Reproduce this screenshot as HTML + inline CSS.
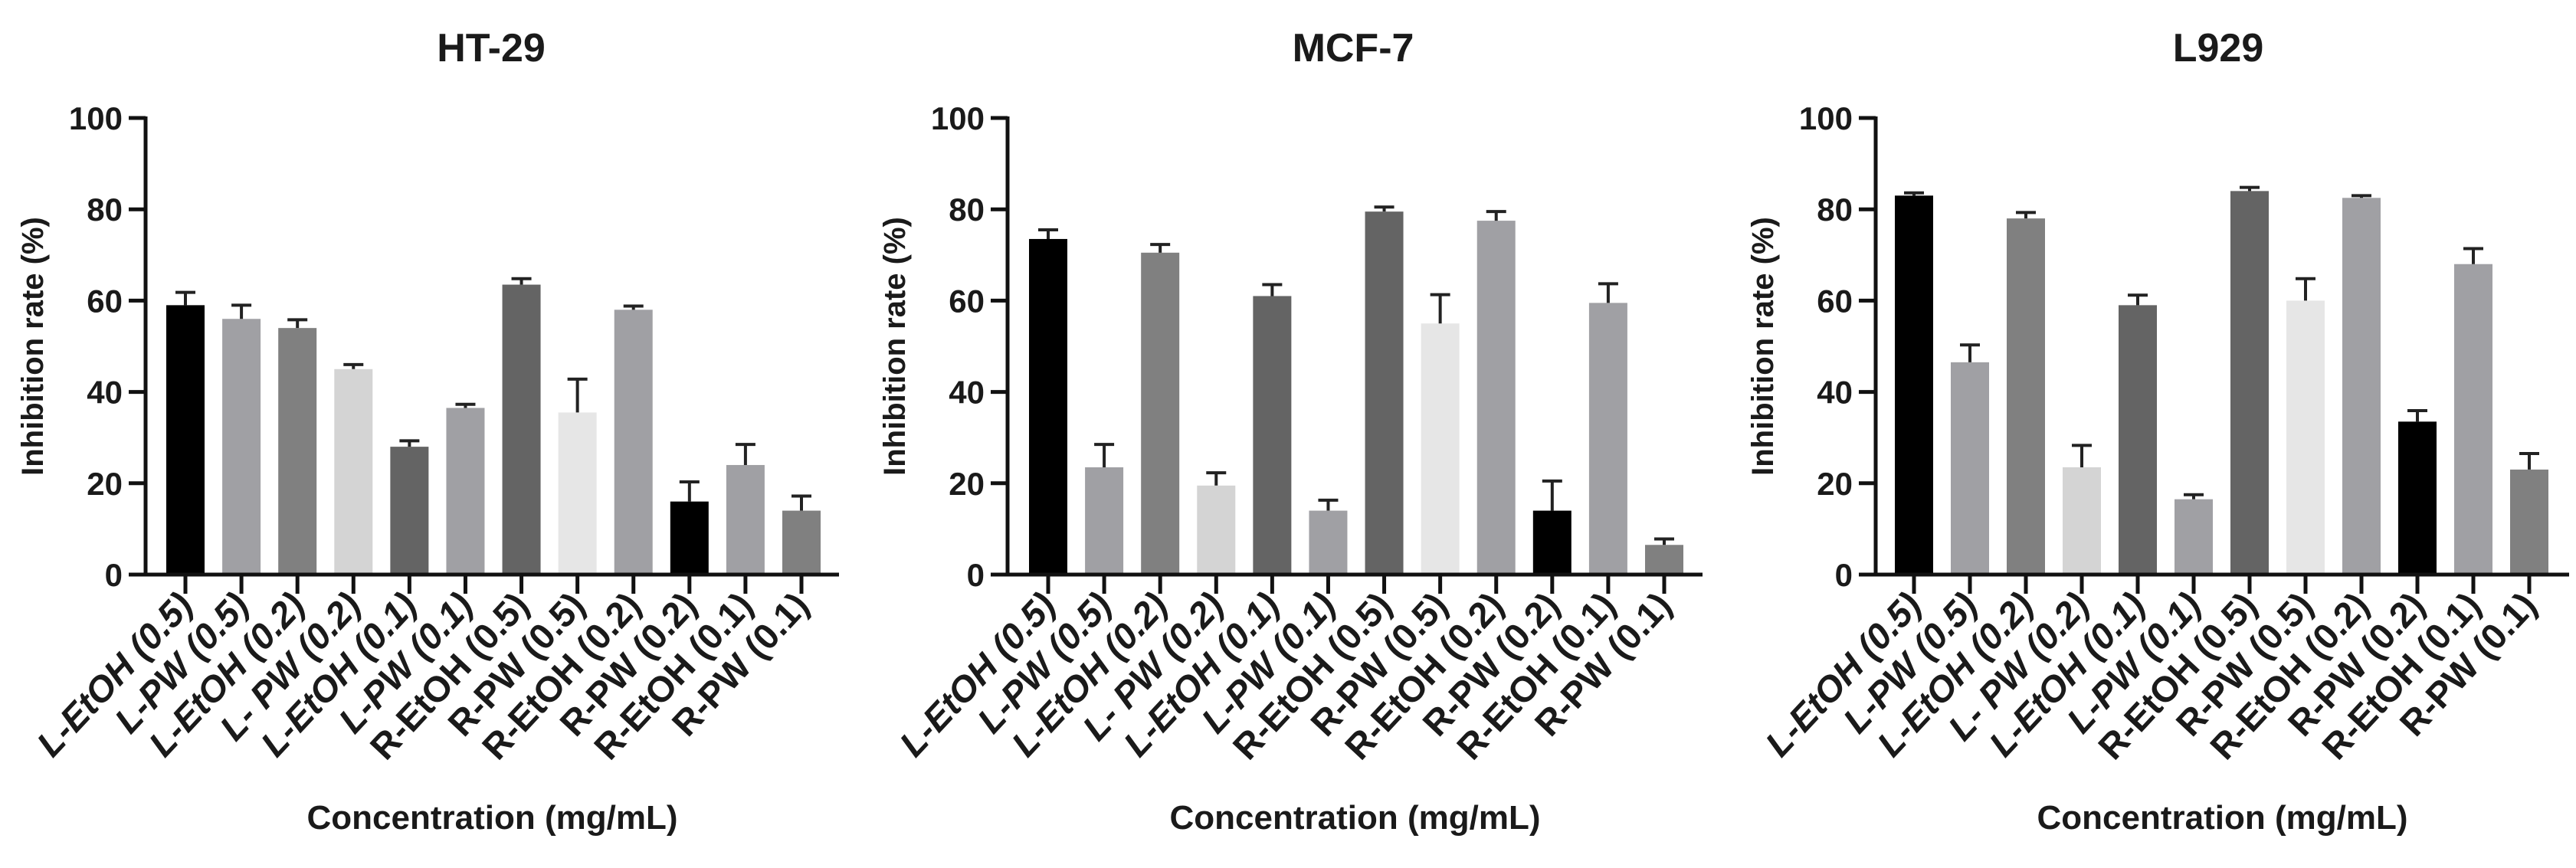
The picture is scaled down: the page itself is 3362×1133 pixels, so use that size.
<!DOCTYPE html>
<html><head><meta charset="utf-8"><style>
html,body{margin:0;padding:0;background:#fff;}
svg{display:block;font-family:"Liberation Sans",Arial,sans-serif;}
</style></head><body>
<svg id="fig" width="3362" height="1133" viewBox="0 0 3362 1133" xmlns="http://www.w3.org/2000/svg"></svg>
<script>
const categories = ["L-EtOH (0.5)","L-PW (0.5)","L-EtOH (0.2)","L- PW (0.2)","L-EtOH (0.1)","L-PW (0.1)","R-EtOH (0.5)","R-PW (0.5)","R-EtOH (0.2)","R-PW (0.2)","R-EtOH (0.1)","R-PW (0.1)"];
const panelTitles = ["HT-29","MCF-7","L929"];
const ht29Values = [59,56,54,45,28,36.5,63.5,35.5,58,16,24,14];
const ht29Errors = [2.8,3,1.8,1,1.3,0.8,1.3,7.3,0.8,4.3,4.5,3.2];
const mcf7Values = [73.5,23.5,70.5,19.5,61,14,79.5,55,77.5,14,59.5,6.5];
const mcf7Errors = [2,5,1.8,2.8,2.5,2.3,1,6.3,2,6.5,4.2,1.3];
const l929Values = [83,46.5,78,23.5,59,16.5,84,60,82.5,33.5,68,23];
const l929Errors = [0.6,3.8,1.3,4.8,2.2,1,0.8,4.8,0.5,2.4,3.4,3.5];
const yTicks = [0,20,40,60,80,100];

const colors = ["#000000","#a0a0a4","#808080","#d4d4d4","#646464","#a0a0a4","#646464","#e6e6e6","#a0a0a4","#000000","#a0a0a4","#808080"];
const panels = [
  {axisX:190, first:242, last:1046, xEnd:1095, titleX:641, vals:ht29Values, errs:ht29Errors, key:"ht29"},
  {axisX:1315, first:1368, last:2172, xEnd:2222, titleX:1766, vals:mcf7Values, errs:mcf7Errors, key:"mcf7"},
  {axisX:2448, first:2498, last:3301, xEnd:3353, titleX:2895, vals:l929Values, errs:l929Errors, key:"l929"}
];
const NS="http://www.w3.org/2000/svg";
const svg=document.getElementById('fig');
const Y0=750, Y100=154;
function yScale(v){return Y0-(v/100)*(Y0-Y100);}
function mk(tag,attrs,parent){const e=document.createElementNS(NS,tag);for(const k in attrs)e.setAttribute(k,attrs[k]);(parent||svg).appendChild(e);return e;}

panels.forEach((p,pi)=>{
  const g=mk('g',{});
  
  
  const step=(p.last-p.first)/(categories.length-1);
  const xScale=i=>p.first+i*step;
  const bw=50;
  const t=mk('text',{x:p.titleX,y:80,'text-anchor':'middle','font-size':52,'font-weight':'bold',fill:'#1a1a1a'},g);
  t.textContent=panelTitles[pi];
  
  
  p.vals.forEach((v,i)=>{
    const cx=xScale(i);
    const r=mk('rect',{x:cx-bw/2,y:yScale(v),width:bw,height:Y0-yScale(v),fill:colors[i]},g);
    
    
    const top=yScale(v+p.errs[i]);
    const eb=mk('path',{d:`M${cx},${yScale(v)}V${top}M${cx-13},${top}H${cx+13}`,stroke:'#222',"stroke-width":4,fill:'none'},g);
    
    
    const tk=mk('line',{x1:cx,x2:cx,y1:Y0,y2:775,stroke:'#111','stroke-width':5},g);
    
    
    const lx=cx+12, ly=792;
    const lb=mk('text',{x:lx,y:ly,'text-anchor':'end','font-size':47,'font-weight':'bold','font-style':categories[i].startsWith('L')?'italic':'normal',fill:'#1a1a1a',transform:`rotate(-47 ${lx} ${ly})`},g);
    lb.textContent=categories[i];
    
    
  });
  const ya=mk('line',{x1:p.axisX,x2:p.axisX,y1:Y100-2,y2:Y0+2,stroke:'#111','stroke-width':5},g);
  
  
  const xa=mk('line',{x1:p.axisX-2,x2:p.xEnd,y1:Y0,y2:Y0,stroke:'#111','stroke-width':5},g);
  
  
  yTicks.forEach(v=>{
    const y=yScale(v);
    const l=mk('line',{x1:p.axisX-22,x2:p.axisX,y1:y,y2:y,stroke:'#111','stroke-width':5},g);
    
    
    const tx=mk('text',{x:p.axisX-30,y:y+15,'text-anchor':'end','font-size':42,'font-weight':'bold',fill:'#1a1a1a'},g);
    tx.textContent=v;
    
    
  });
  const yt=mk('text',{x:0,y:0,'text-anchor':'middle','font-size':40,'font-weight':'bold',fill:'#1a1a1a',transform:`translate(${p.axisX-134},452) rotate(-90)`},g);
  yt.textContent='Inhibition rate (%)';
  
  
  const xt=mk('text',{x:(p.axisX+p.xEnd)/2,y:1082,'text-anchor':'middle','font-size':44,'font-weight':'bold',fill:'#1a1a1a'},g);
  xt.textContent='Concentration (mg/mL)';
  
  
});
</script>
</body></html>
